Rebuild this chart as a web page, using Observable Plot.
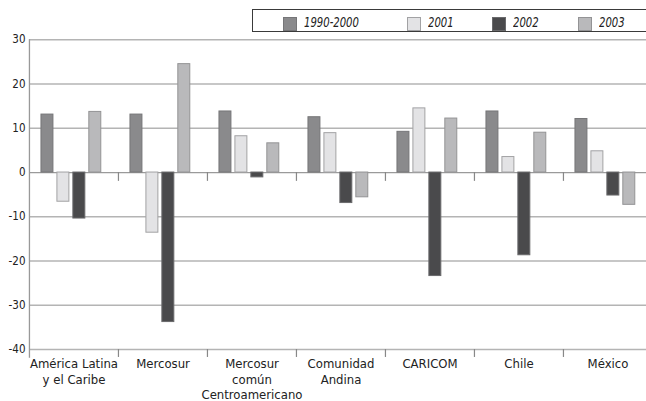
<!DOCTYPE html>
<html>
<head>
<meta charset="utf-8">
<script src="https://cdn.jsdelivr.net/npm/d3@7"></script>
<script src="https://cdn.jsdelivr.net/npm/@observablehq/plot@0.6"></script>
<style>
  html, body { margin: 0; padding: 0; background: white; overflow: hidden; }
  body { width: 646px; height: 401px; font-family: 'Liberation Sans Narrow', 'DejaVu Sans Condensed', sans-serif; }
  #legend { position: relative; height: 26px; width: 646px; z-index: 1; }
  #legend .box { position: absolute; left: 252px; top: 9px; width: 420px; height: 21px;
    border: 1.5px solid #3a3a3a; border-right: none; box-sizing: content-box; }
  #legend .sw { position: absolute; top: 17px; width: 12px; height: 12px; border: 1px solid #888; }
  #legend .lb { position: absolute; top: 14px; font-size: 14px; font-style: italic; color: #222; line-height: 17px;
    transform: scaleX(0.8); transform-origin: left center; white-space: nowrap; }
  #chart svg { background: transparent !important; }
</style>
</head>
<body>
<div id="legend"><div class="box"></div></div>
<div id="chart"></div>
<script>
const regions = ["América Latina\ny el Caribe", "Mercosur", "Mercosur\ncomún\nCentroamericano", "Comunidad\nAndina", "CARICOM", "Chile", "México"];
const series = ["1990-2000", "2001", "2002", "2003"];
const v1990 = [13.1, 13.1, 13.8, 12.5, 9.2, 13.8, 12.1];
const v2001 = [-6.6, -13.6, 8.2, 8.9, 14.5, 3.5, 4.8];
const v2002 = [-10.4, -33.8, -1.1, -6.9, -23.4, -18.7, -5.2];
const v2003 = [13.7, 24.5, 6.6, -5.6, 12.2, 9.0, -7.3];
const yTicks = [-40, -30, -20, -10, 0, 10, 20, 30];
const fills = ["#8a8a8c", "#e3e3e5", "#4a4a4c", "#b9b9bb"];
const strokes = ["#767678", "#a2a2a4", "#6a6a6c", "#939395"];

const values = [v1990, v2001, v2002, v2003];
const data = series.flatMap((s, i) => regions.map((r, j) => ({region: r, series: s, value: values[i][j]})));

// legend
const legend = document.getElementById("legend");
const swLeft = [283, 407, 492, 578];
series.forEach((s, i) => {
  const sw = document.createElement("div");
  sw.className = "sw";
  sw.style.left = swLeft[i] + "px";
  sw.style.background = fills[i];
  sw.style.borderColor = strokes[i];
  legend.appendChild(sw);
  const lb = document.createElement("div");
  lb.className = "lb";
  lb.style.left = (swLeft[i] + 21) + "px";
  lb.textContent = s;
  legend.appendChild(lb);
});

const sepOffset = -18;

const chart = Plot.plot({
  width: 646,
  height: 375,
  marginLeft: 28,
  marginRight: 0,
  marginTop: 13.3,
  marginBottom: 52,
  style: {fontFamily: "'Liberation Sans Narrow', 'DejaVu Sans Condensed', sans-serif", fontSize: "11.5px", background: "transparent", color: "#222"},
  fx: {domain: regions, range: [28, 653], padding: 0, axis: null},
  x: {domain: series, paddingInner: 0.25, paddingOuter: 0.915, align: 0.41, round: false, axis: null},
  y: {domain: [-40, 30], ticks: yTicks, tickSize: 0, tickPadding: 4, tickFormat: d => String(d), label: null, axis: "left"},
  marks: [
    Plot.ruleY(yTicks.filter(t => t !== 0), {stroke: "#b4b4b4", strokeWidth: 1.5}),
    Plot.ruleY([0], {stroke: "#9a9a9a", strokeWidth: 1.3}),
    ...series.map((s, i) => Plot.barY(data.filter(d => d.series === s), {
      fx: "region", x: "series", y1: 0, y2: "value", fill: fills[i], stroke: strokes[i], strokeWidth: 1
    })),
    Plot.ruleX(regions.slice(1), {fx: d => d, x: () => series[0], dx: sepOffset, y1: 0, y2: -2, stroke: "#888", strokeWidth: 1.2}),
    Plot.ruleX(regions.slice(1), {fx: d => d, x: () => series[0], dx: sepOffset, y1: -40, y2: -41.8, stroke: "#888", strokeWidth: 1.2}),
    Plot.ruleX(regions.slice(0, 1), {fx: d => d, x: () => series[0], dx: sepOffset, y1: 30, y2: -42, stroke: "#999", strokeWidth: 1.3}),
    Plot.text(regions, {fx: d => d, text: d => d, frameAnchor: "bottom", lineAnchor: "top", dy: 8, fontSize: 13, lineHeight: 1.17, fill: "#222"})
  ]
});
document.getElementById("chart").appendChild(chart);
</script>
</body>
</html>
